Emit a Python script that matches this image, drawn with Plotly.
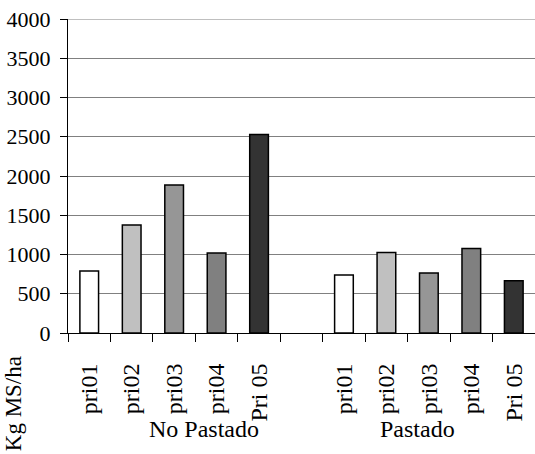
import plotly.graph_objects as go

# data
labels = ["pri01", "pri02", "pri03", "pri04", "Pri 05"]
groups = ["No Pastado", "Pastado"]
no_pastado = [790, 1375, 1885, 1020, 2530]
pastado = [740, 1025, 765, 1075, 665]
bar_colors = ["#FFFFFF", "#C0C0C0", "#969696", "#808080", "#333333"]
y_ticks = [0, 500, 1000, 1500, 2000, 2500, 3000, 3500, 4000]

FONT = "Liberation Serif"

# unique category ids per group, with an empty slot between the groups
ids_np = [f"{groups[0]}|{lab}" for lab in labels]
ids_p = [f"{groups[1]}|{lab}" for lab in labels]
cat_order = ids_np + ["gap"] + ids_p
tick_text = labels + [""] + labels

fig = go.Figure()

fig.add_trace(go.Bar(
    x=ids_np, y=no_pastado,
    marker=dict(color=bar_colors, line=dict(color="black", width=1.5)),
    showlegend=False,
))
fig.add_trace(go.Bar(
    x=ids_p, y=pastado,
    marker=dict(color=bar_colors, line=dict(color="black", width=1.5)),
    showlegend=False,
))

fig.update_xaxes(
    type="category", automargin=False,
    categoryorder="array", categoryarray=cat_order,
    tickmode="array", tickvals=cat_order, ticktext=tick_text,
    tickson="boundaries",
    ticks="outside", ticklen=8, tickcolor="black",
    tickangle=-90, ticklabelstandoff=20,
    tickfont=dict(family=FONT, size=24, color="black"),
    showline=True, linecolor="black", linewidth=1,
    showgrid=False,
    range=[-0.5, len(cat_order) - 0.5],
)
fig.update_yaxes(
    automargin=False,
    range=[0, y_ticks[-1]],
    tickmode="array", tickvals=y_ticks,
    ticks="outside", ticklen=7, tickcolor="black",
    ticklabelstandoff=5, ticklabeloverflow="allow",
    tickfont=dict(family=FONT, size=22, color="black"),
    showline=True, linecolor="black", linewidth=1,
    showgrid=True, gridcolor="#808080", gridwidth=1,
    zeroline=False,
)

# plotly drops the gridline at the very top of the range, so add it back
fig.add_shape(type="line", xref="paper", yref="y", x0=0, x1=1,
              y0=y_ticks[-1], y1=y_ticks[-1],
              line=dict(color="#808080", width=1), layer="below")

# group labels under the category labels
for name, gx in zip(groups, [0.291, 0.748]):
    fig.add_annotation(text=name, xref="paper", yref="paper", x=gx, y=-0.305,
                       xanchor="center", yanchor="middle", showarrow=False,
                       font=dict(family=FONT, size=24, color="black"))
# y-axis title sits at the bottom left in the original
fig.add_annotation(text="Kg MS/ha", xref="paper", yref="paper", x=-0.118, y=-0.224,
                   xanchor="center", yanchor="middle",
                   textangle=-90, showarrow=False,
                   font=dict(family=FONT, size=23, color="black"))

fig.update_layout(
    width=535, height=454,
    margin=dict(l=68, r=0, t=19, b=121),
    bargap=0.56,
    barmode="overlay",
    plot_bgcolor="white", paper_bgcolor="white",
    font=dict(family=FONT, color="black"),
)

# drop the default body margin so the figure fills the window exactly
fig.write_html("out.html", config={"displayModeBar": False},
               post_script="document.body.style.margin = '0';")
